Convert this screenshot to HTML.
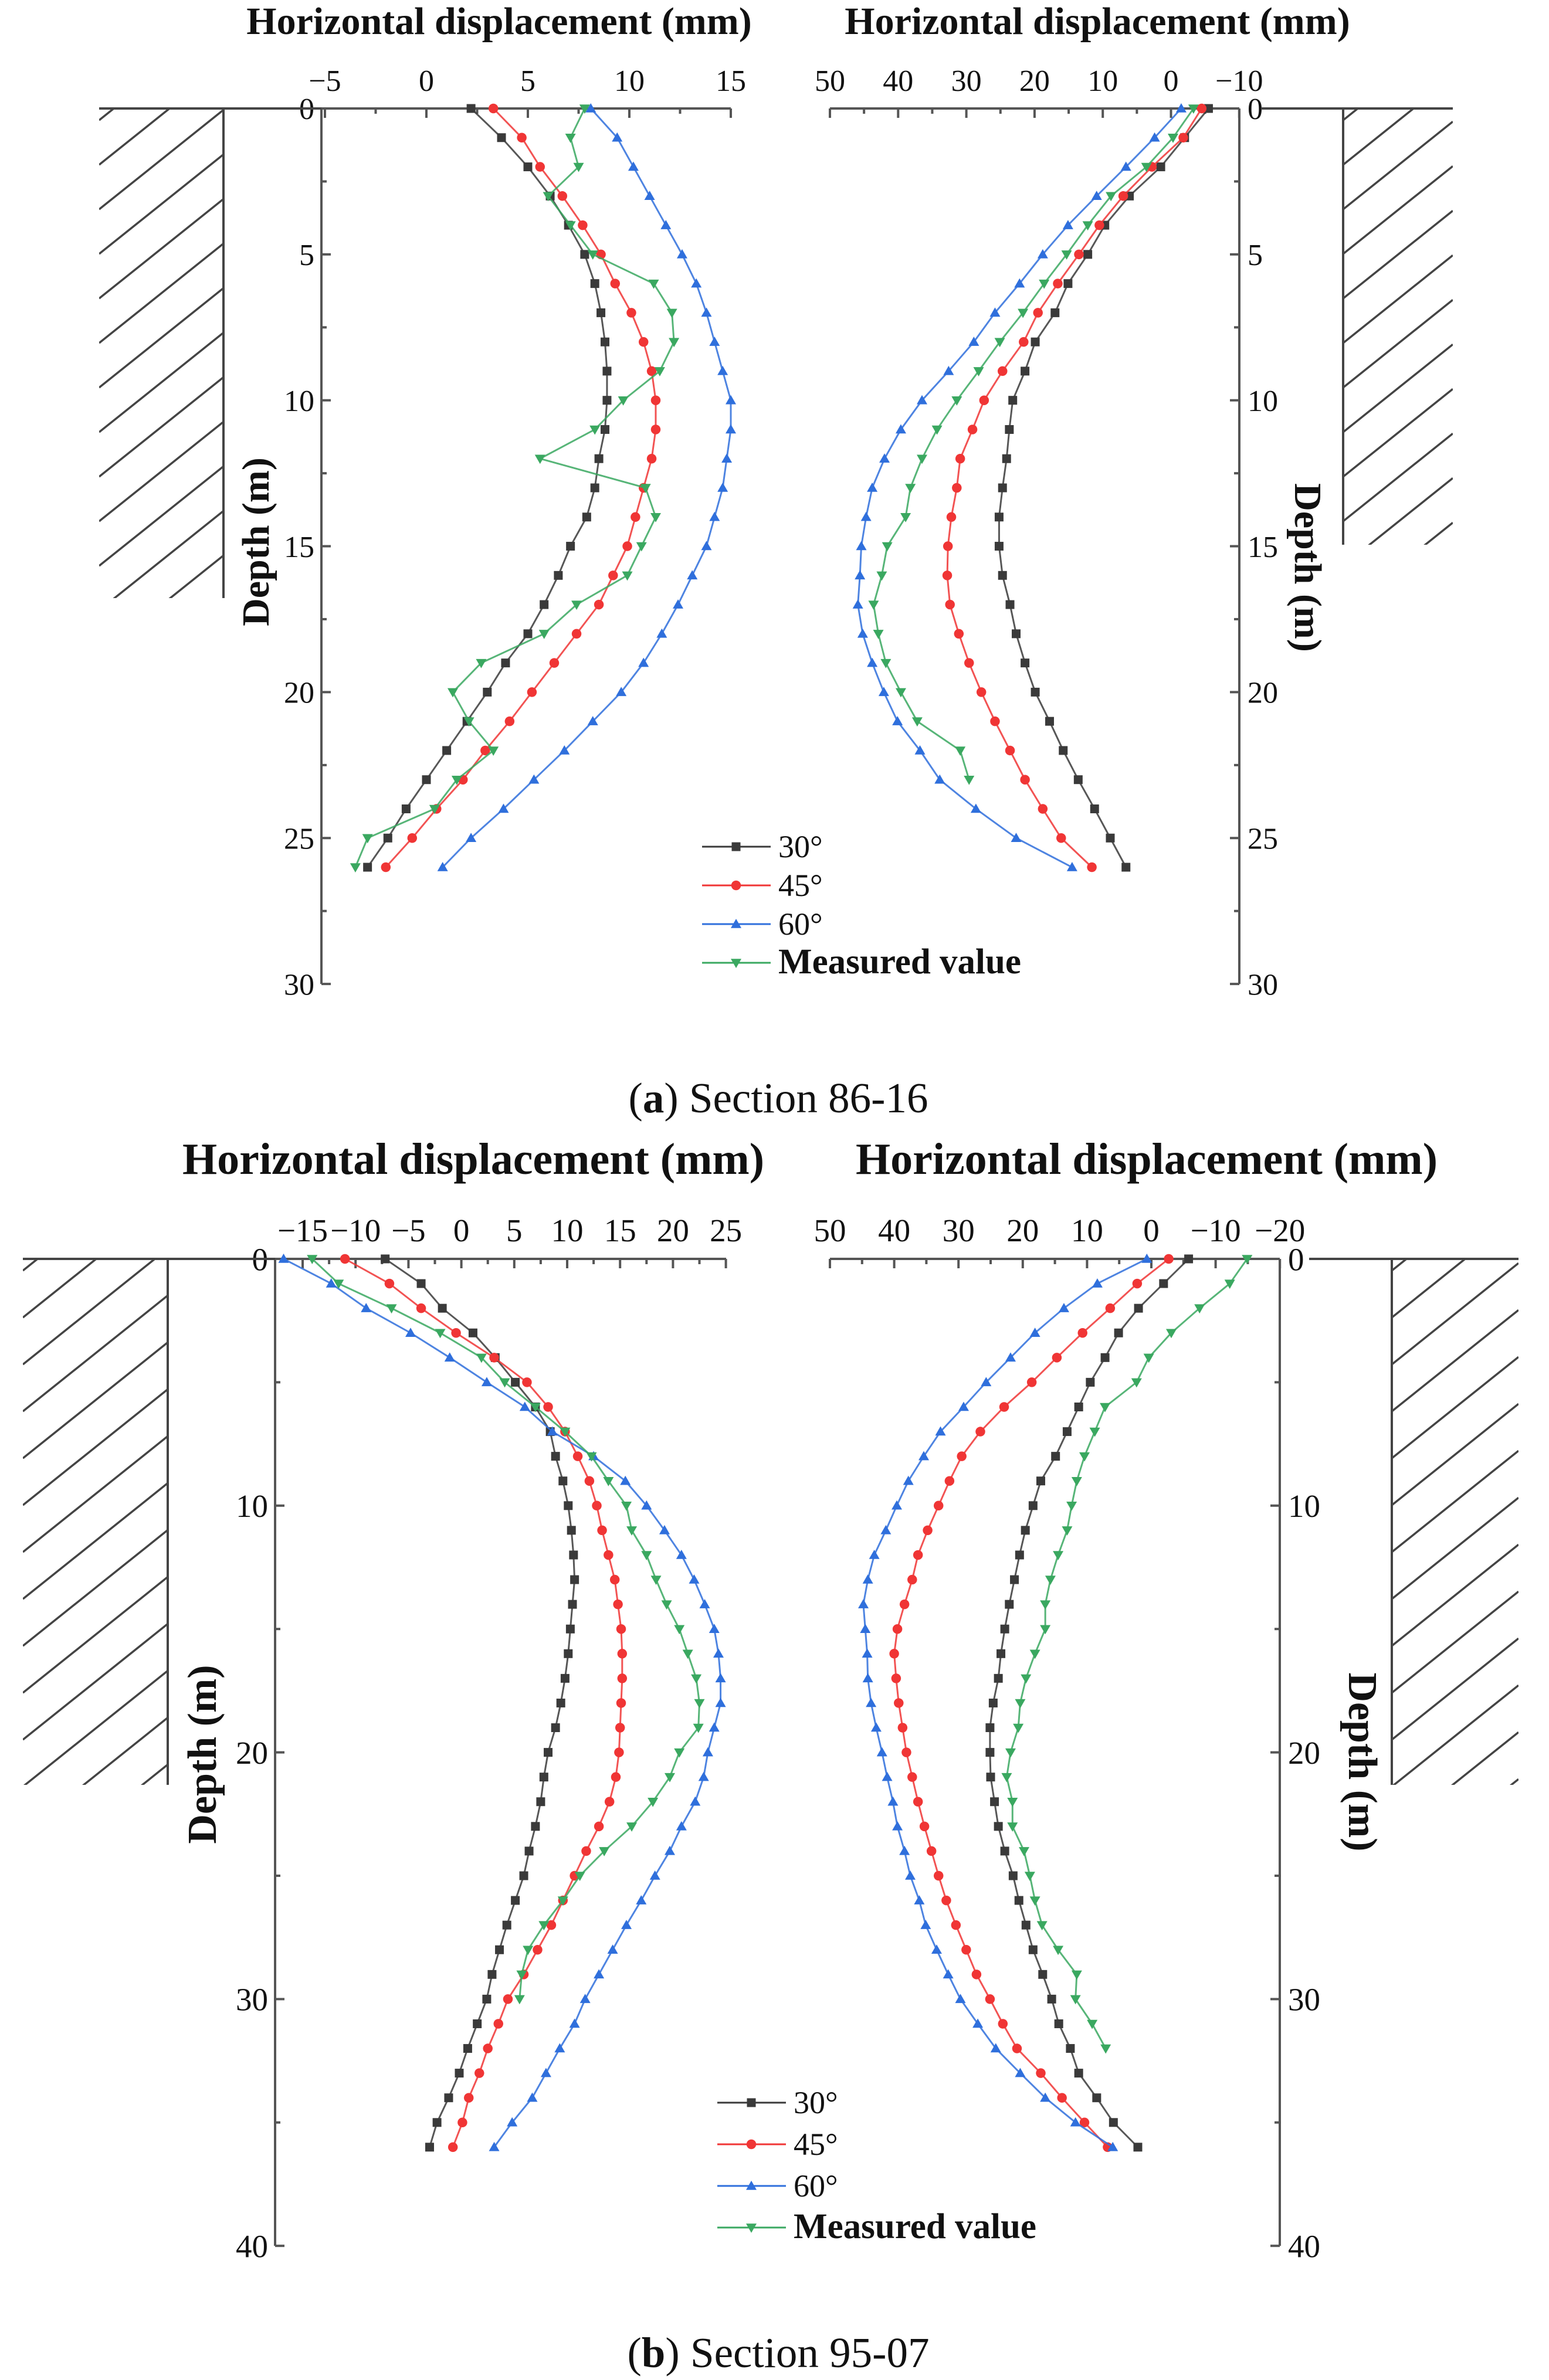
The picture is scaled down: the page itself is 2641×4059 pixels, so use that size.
<!DOCTYPE html>
<html><head><meta charset="utf-8">
<style>
html,body{margin:0;padding:0;background:#fff;}
svg{display:block;}
text{font-family:"Liberation Serif",serif;fill:#111;}
</style></head>
<body>
<svg id="chart" width="2641" height="4059" viewBox="0 0 2641 4059" xmlns="http://www.w3.org/2000/svg">
<defs>
<clipPath id="wallA1"><rect x="169" y="185" width="212" height="835"/></clipPath>
<clipPath id="wallA2"><rect x="2290" y="185" width="187" height="744"/></clipPath>
<clipPath id="wallB1"><rect x="39" y="2147" width="247" height="897"/></clipPath>
<clipPath id="wallB2"><rect x="2373" y="2147" width="216" height="897"/></clipPath>
</defs>
<g id="root"></g>
<text x="1327" y="1897" font-size="73" text-anchor="middle">(<tspan font-weight="bold">a</tspan>) Section 86-16</text>
<text x="1327" y="4037" font-size="73" text-anchor="middle">(<tspan font-weight="bold">b</tspan>) Section 95-07</text>
</svg>
<script>
// ---- Data: section 86-16 (depth 0..26 m, step 1) ----
const depthA = [0,1,2,3,4,5,6,7,8,9,10,11,12,13,14,15,16,17,18,19,20,21,22,23,24,25,26];
const aL30 = [2.2,3.7,5.0,6.1,7.0,7.8,8.3,8.6,8.8,8.9,8.9,8.8,8.5,8.3,7.9,7.1,6.5,5.8,5.0,3.9,3.0,2.0,1.0,0,-1.0,-1.9,-2.9];
const aL45 = [3.3,4.7,5.6,6.7,7.7,8.6,9.3,10.1,10.7,11.1,11.3,11.3,11.1,10.7,10.3,9.9,9.2,8.5,7.4,6.3,5.2,4.1,2.9,1.8,0.5,-0.7,-2.0];
const aL60 = [8.1,9.4,10.2,11.0,11.8,12.6,13.3,13.8,14.2,14.6,15.0,15.0,14.8,14.6,14.2,13.8,13.1,12.4,11.6,10.7,9.6,8.2,6.8,5.3,3.8,2.2,0.8];
const aLM  = [7.8,7.1,7.5,6.0,7.1,8.2,11.2,12.1,12.2,11.5,9.7,8.3,5.6,10.8,11.3,10.6,9.9,7.4,5.8,2.7,1.3,2.1,3.3,1.5,0.4,-2.9,-3.5];
const aR30 = [-5.5,-2.0,1.5,6.1,9.7,12.2,15.1,17.0,19.9,21.4,23.2,23.7,24.1,24.7,25.2,25.2,24.7,23.6,22.7,21.4,19.9,17.8,15.8,13.6,11.2,8.9,6.6];
const aR45 = [-4.5,-1.8,2.8,7.0,10.5,13.5,16.6,19.5,21.6,24.7,27.4,29.1,30.9,31.4,32.2,32.7,32.8,32.4,31.1,29.6,27.8,25.8,23.6,21.4,18.8,16.1,11.6];
const aR60 = [-1.5,2.4,6.6,10.9,15.1,18.8,22.2,25.8,28.9,32.6,36.5,39.6,42.0,43.8,44.7,45.4,45.6,45.9,45.2,43.8,42.1,40.1,36.8,33.9,28.6,22.7,14.5];
const aRM  = [-3.3,-0.3,3.6,8.8,12.2,15.3,18.6,21.7,25.1,28.2,31.4,34.3,36.5,38.2,38.9,41.6,42.4,43.6,42.9,41.8,39.6,37.2,30.9,29.6];
// ---- Data: section 95-07 (depth 0..36 m, step 1) ----
const depthB = [0,1,2,3,4,5,6,7,8,9,10,11,12,13,14,15,16,17,18,19,20,21,22,23,24,25,26,27,28,29,30,31,32,33,34,35,36];
const bL30 = [-7.2,-3.8,-1.8,1.1,3.2,5.1,7.0,8.4,8.9,9.6,10.1,10.4,10.6,10.7,10.5,10.3,10.1,9.8,9.4,8.9,8.2,7.8,7.5,7.0,6.4,5.9,5.1,4.3,3.6,2.9,2.4,1.5,0.6,-0.2,-1.2,-2.3,-3.0];
const bL45 = [-11.0,-6.8,-3.8,-0.5,3.1,6.2,8.2,9.8,11.0,12.1,12.8,13.3,13.9,14.5,14.8,15.1,15.2,15.2,15.1,15.0,14.9,14.6,14.0,13.0,11.8,10.7,9.6,8.5,7.2,5.9,4.4,3.5,2.5,1.7,0.7,0.1,-0.8];
const bL60 = [-16.8,-12.3,-9.0,-4.8,-1.1,2.4,6.0,8.6,12.5,15.5,17.5,19.2,20.8,22.0,23.0,23.9,24.3,24.5,24.5,23.9,23.3,22.9,22.1,20.8,19.7,18.3,17.0,15.6,14.3,13.0,11.7,10.7,9.3,8.0,6.7,4.8,3.1];
const bLM  = [-14.1,-11.6,-6.6,-2.0,1.9,4.1,7.0,9.8,12.3,13.9,15.6,16.1,17.5,18.4,19.4,20.6,21.4,22.2,22.5,22.4,20.6,19.7,18.1,16.1,13.5,11.2,9.6,7.8,6.3,5.7,5.5];
const bR30 = [-5.8,-1.9,2.0,5.1,7.2,9.5,11.3,13.1,14.9,17.2,18.4,19.6,20.5,21.3,22.1,22.8,23.4,23.8,24.6,25.1,25.1,25.0,24.4,23.8,22.8,21.5,20.6,19.5,18.4,16.9,15.5,14.4,12.6,11.3,8.5,5.9,2.1];
const bR45 = [-2.7,2.2,6.4,10.7,14.7,18.6,22.9,26.6,29.5,31.4,33.1,34.8,36.3,37.2,38.4,39.5,40.0,39.7,39.3,38.7,38.1,37.2,36.3,35.3,34.2,33.1,31.9,30.4,28.8,27.2,25.1,23.1,20.9,17.2,13.9,10.4,6.8];
const bR60 = [0.7,8.4,13.6,18.1,21.9,25.7,29.2,32.8,35.4,37.8,39.6,41.3,43.1,44.1,44.8,44.5,44.2,44.1,43.6,42.8,41.9,41.1,40.2,39.5,38.4,37.5,36.1,35.1,33.4,31.6,29.7,27.0,24.2,20.4,16.5,11.8,6.0];
const bRM  = [-14.9,-12.2,-7.5,-3.1,0.4,2.3,7.2,8.8,10.4,11.6,12.4,13.1,14.5,15.7,16.5,16.5,18.1,19.5,20.4,20.7,21.9,22.5,21.6,21.6,19.8,18.9,18.1,17.0,14.5,11.6,11.8,9.2,7.1];
// tick labels
const ticksAL = [-5,0,5,10,15];
const ticksAR = [50,40,30,20,10,0,-10];
const ticksBL = [-15,-10,-5,0,5,10,15,20,25];
const ticksBR = [50,40,30,20,10,0,-10,-20];
const depthTicksA = [0,5,10,15,20,25,30];
const depthTicksB = [0,10,20,30,40];
const seriesNames = ["30°","45°","60°","Measured value"];

const NS = "http://www.w3.org/2000/svg";
const root = document.getElementById('root');
const COLORS = {s30:"#3a3a3a", s45:"#f03535", s60:"#2f6fdc", m:"#3aa860"};
function el(tag, attrs, parent){
  const e = document.createElementNS(NS, tag);
  for (const k in attrs) e.setAttribute(k, attrs[k]);
  (parent||root).appendChild(e);
  return e;
}
function fmt(v){ return v<0 ? "\u2212"+Math.abs(v) : String(v); }

function marker(g, kind, x, y, color, sz){
  let m;
  if (kind==='sq') m = el('rect',{x:x-sz/2,y:y-sz/2,width:sz,height:sz,fill:color},g);
  else if (kind==='ci') m = el('circle',{cx:x,cy:y,r:sz*0.55,fill:color},g);
  else if (kind==='up') m = el('polygon',{points:`${x},${y-sz*0.6} ${x-sz*0.6},${y+sz*0.45} ${x+sz*0.6},${y+sz*0.45}`,fill:color},g);
  else m = el('polygon',{points:`${x},${y+sz*0.6} ${x-sz*0.6},${y-sz*0.45} ${x+sz*0.6},${y-sz*0.45}`,fill:color},g);
  
  
}

function panel(cfg){
  const g = el('g',{});
  
  
  const xs = v => cfg.x0 + v*cfg.k;
  const ys = d => cfg.y0 + d*cfg.m;
  const yEnd = ys(cfg.dMax);
  const ax = el('g',{stroke:"#555","stroke-width":4,fill:"none"},g);
  
  
  el('line',{x1:cfg.axL,y1:cfg.y0,x2:cfg.axR,y2:cfg.y0},ax);
  const vx = cfg.side==='left' ? cfg.axL : cfg.axR;
  const ay = el('g',{stroke:"#555","stroke-width":4,fill:"none"},g);
  
  
  el('line',{x1:vx,y1:cfg.y0,x2:vx,y2:yEnd},ay);
  cfg.xt.forEach((v,i)=>{
    const x = xs(v);
    el('line',{x1:x,y1:cfg.y0,x2:x,y2:cfg.y0+16},ax);
    if (i<cfg.xt.length-1){
      const xm = xs(v + cfg.xMinor);
      el('line',{x1:xm,y1:cfg.y0,x2:xm,y2:cfg.y0+9},ax);
    }
    const t = el('text',{x:x,y:cfg.y0-30,"font-size":cfg.fs,"text-anchor":"middle"},g);
    t.textContent = fmt(v);
    
    
  });
  const dir = cfg.side==='left' ? 1 : -1;
  cfg.yt.forEach((d,i)=>{
    const y = ys(d);
    el('line',{x1:vx,y1:y,x2:vx+dir*16,y2:y},ay);
    if (i<cfg.yt.length-1){
      const ym = ys(d + cfg.yMinor);
      el('line',{x1:vx,y1:ym,x2:vx+dir*9,y2:ym},ay);
    }
    const t = el('text',{x: cfg.side==='left'? vx-12 : vx+14, y:y+cfg.fs*0.35,"font-size":cfg.fs,"text-anchor":cfg.side==='left'?"end":"start"},g);
    t.textContent = String(d);
    
    
  });
  const tt = el('text',{x:cfg.titleX,y:cfg.titleY,"font-size":cfg.tfs,"font-weight":"bold","text-anchor":"middle"},g);
  tt.textContent = "Horizontal displacement (mm)";
  
  
  const yl = el('text',{x:0,y:0,"font-size":cfg.yfs,"font-weight":"bold","text-anchor":"middle",transform:`translate(${cfg.ylX},${cfg.ylY}) rotate(${cfg.side==='left'?-90:90})`},g);
  yl.textContent = "Depth (m)";
  
  
  const wg = el('g',{stroke:"#444","stroke-width":4,fill:"none"},g);
  
  
  el('line',{x1:cfg.gL,y1:cfg.y0,x2:cfg.gR,y2:cfg.y0},wg);
  const w = cfg.wall;
  el('line',{x1:cfg.wallEdge,y1:cfg.y0,x2:cfg.wallEdge,y2:w.y+w.h},wg);
  const hg = el('g',{"clip-path":`url(#${w.clip})`,stroke:"#444","stroke-width":3.5},wg);
  for (let yy = w.y + 20; yy < w.y + w.h + w.w*0.85 + 80; yy += cfg.hatch){
    el('line',{x1:w.x, y1:yy, x2:w.x+w.w, y2:yy - w.w*0.8},hg);
  }
  const series = [
    {v:cfg.s30,c:COLORS.s30,k:'sq',n:'series-30deg'},
    {v:cfg.s45,c:COLORS.s45,k:'ci',n:'series-45deg'},
    {v:cfg.s60,c:COLORS.s60,k:'up',n:'series-60deg'},
    {v:cfg.sm ,c:COLORS.m ,k:'dn',n:'series-measured'}
  ];
  series.forEach(s=>{
    const sg = el('g',{},g);
    
    
    const pts = s.v.map((v,i)=>`${xs(v)},${ys(cfg.depth[i])}`).join(' ');
    el('polyline',{points:pts,fill:"none",stroke:s.c,"stroke-width":3,"stroke-opacity":0.85},sg);
    s.v.forEach((v,i)=>marker(sg,s.k,xs(v),ys(cfg.depth[i]),s.c,cfg.ms));
  });
  if (cfg.legend){
    const L = cfg.legend;
    const lg = el('g',{},g);
    
    
    series.forEach((s,i)=>{
      const y = L.y + i*L.dy;
      const eg = el('g',{},lg);
      
      
      el('line',{x1:L.x,y1:y,x2:L.x+117,y2:y,stroke:s.c,"stroke-width":3},eg);
      marker(eg,s.k,L.x+58,y,s.c,cfg.ms);
      const t = el('text',{x:L.x+130,y:y+18,"font-size":i===3?61:54,"font-weight":i===3?"bold":"normal"},eg);
      t.textContent = seriesNames[i];
    });
  }
}

panel({name:'panel-a-left',side:'left',x0:727,k:34.6,y0:185,m:49.77,dMax:30,axL:548,axR:1246,
  xt:ticksAL,xMinor:2.5,yt:depthTicksA,yMinor:2.5,fs:52,tfs:66,titleX:851,titleY:58,yfs:66,ylX:458,ylY:924,
  gL:169,gR:548,wallEdge:381,wall:{x:169,y:185,w:212,h:835,clip:'wallA1'},hatch:76,
  depth:depthA,s30:aL30,s45:aL45,s60:aL60,sm:aLM,ms:15,
  legend:{x:1197,y:1444,dy:66}});
panel({name:'panel-a-right',side:'right',x0:1996.5,k:-11.63,y0:185,m:49.77,dMax:30,axL:1415,axR:2113,
  xt:ticksAR,xMinor:-5,yt:depthTicksA,yMinor:2.5,fs:52,tfs:66,titleX:1871,titleY:58,yfs:66,ylX:2208,ylY:968,
  gL:2150,gR:2477,wallEdge:2290,wall:{x:2290,y:185,w:187,h:744,clip:'wallA2'},hatch:76,
  depth:depthA,s30:aR30,s45:aR45,s60:aR60,sm:aRM,ms:15});
panel({name:'panel-b-left',side:'left',x0:786.6,k:18.04,y0:2147,m:42.08,dMax:40,axL:469,axR:1238,
  xt:ticksBL,xMinor:2.5,yt:depthTicksB,yMinor:5,fs:55,tfs:76,titleX:807,titleY:2002,yfs:70,ylX:368,ylY:2992,
  gL:39,gR:469,wallEdge:286,wall:{x:39,y:2147,w:247,h:897,clip:'wallB1'},hatch:80,
  depth:depthB,s30:bL30,s45:bL45,s60:bL60,sm:bLM,ms:15,
  legend:{x:1223,y:3586,dy:71}});
panel({name:'panel-b-right',side:'right',x0:1963,k:-10.96,y0:2147,m:42.08,dMax:40,axL:1415,axR:2182,
  xt:ticksBR,xMinor:-5,yt:depthTicksB,yMinor:5,fs:55,tfs:76,titleX:1955,titleY:2002,yfs:70,ylX:2300,ylY:3005,
  gL:2232,gR:2589,wallEdge:2373,wall:{x:2373,y:2147,w:216,h:897,clip:'wallB2'},hatch:80,
  depth:depthB,s30:bR30,s45:bR45,s60:bR60,sm:bRM,ms:15});
</script>
</body></html>
